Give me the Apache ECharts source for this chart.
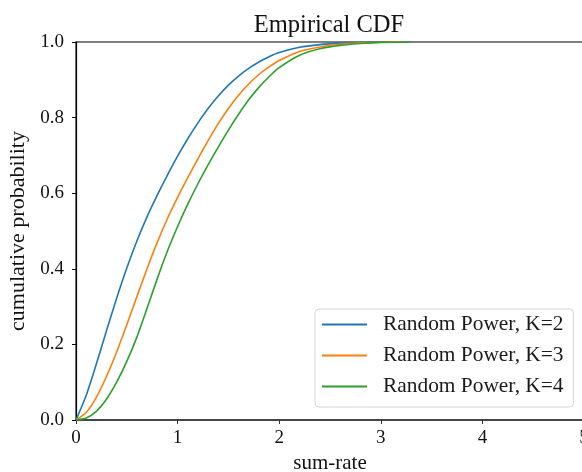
<!DOCTYPE html>
<html>
<head>
<meta charset="utf-8">
<script src="https://cdn.jsdelivr.net/npm/echarts@6/dist/echarts.min.js"></script>
<style>html,body{margin:0;padding:0;background:#fff}#c{width:582px;height:472px}</style>
</head>
<body>
<div id="c"></div>
<script>
const seriesNames = ['Random Power, K=2', 'Random Power, K=3', 'Random Power, K=4'];
const xK2 = [0, 0.1, 0.2, 0.3, 0.4, 0.5, 0.6, 0.7, 0.8, 0.9, 1.0, 1.1, 1.2, 1.3, 1.4, 1.5, 1.6, 1.7, 1.8, 1.9, 2.0, 2.2, 2.4, 2.6, 2.8, 3.0, 3.1];
const yK2 = [0, 0.065, 0.148, 0.236, 0.322, 0.402, 0.474, 0.538, 0.595, 0.648, 0.698, 0.744, 0.786, 0.824, 0.857, 0.886, 0.91, 0.93, 0.947, 0.961, 0.972, 0.986, 0.993, 0.997, 0.999, 1.0, 1.0];
const xK3 = [0, 0.1, 0.2, 0.3, 0.4, 0.5, 0.6, 0.7, 0.8, 0.9, 1.0, 1.1, 1.2, 1.3, 1.4, 1.5, 1.6, 1.7, 1.8, 1.9, 2.0, 2.2, 2.4, 2.6, 2.8, 3.0, 3.2];
const yK3 = [0, 0.02, 0.06, 0.115, 0.18, 0.252, 0.327, 0.401, 0.47, 0.533, 0.589, 0.641, 0.691, 0.739, 0.784, 0.824, 0.859, 0.889, 0.914, 0.934, 0.951, 0.975, 0.987, 0.994, 0.998, 0.9995, 1.0];
const xK4 = [0, 0.1, 0.2, 0.3, 0.4, 0.5, 0.6, 0.7, 0.8, 0.9, 1.0, 1.1, 1.2, 1.3, 1.4, 1.5, 1.6, 1.7, 1.8, 1.9, 2.0, 2.2, 2.4, 2.6, 2.8, 3.0, 3.3];
const yK4 = [0, 0.005, 0.023, 0.055, 0.1, 0.155, 0.22, 0.296, 0.374, 0.447, 0.512, 0.571, 0.625, 0.675, 0.722, 0.767, 0.809, 0.847, 0.88, 0.908, 0.932, 0.965, 0.982, 0.991, 0.996, 0.999, 1.0];
const xTicks = [0, 1, 2, 3, 4, 5];
const yTicks = [0.0, 0.2, 0.4, 0.6, 0.8, 1.0];
const colors = ['#1f77b4', '#ff7f0e', '#2ca02c'];

const pairs = (xs, ys) => xs.map((x, i) => [x, ys[i]]);
const allData = [pairs(xK2, yK2), pairs(xK3, yK3), pairs(xK4, yK4)];
const FONT = '"Liberation Serif", "DejaVu Serif", serif';

const chart = echarts.init(document.getElementById('c'), null, {renderer: 'canvas'});
chart.setOption({
  animation: false,
  backgroundColor: '#fff',
  textStyle: {fontFamily: FONT, color: '#000'},
  title: {
    text: 'Empirical CDF',
    left: 324, top: 8, textAlign: 'center',
    textStyle: {fontFamily: FONT, fontSize: 24.5, fontWeight: 'normal', color: '#111'}
  },
  grid: {left: 76, width: 508, top: 42, height: 378, containLabel: false, outerBoundsMode: 'none',
         show: true, borderColor: '#555', borderWidth: 1.5, backgroundColor: 'transparent'},
  legend: {
    orient: 'vertical', left: 315, top: 309,
    data: seriesNames,
    icon: 'rect', itemWidth: 45, itemHeight: 2, itemGap: 10,
    padding: [5, 10, 10, 7],
    backgroundColor: '#fff', borderColor: '#d6d6d6', borderWidth: 1, borderRadius: 4,
    textStyle: {fontFamily: FONT, fontSize: 21.4, color: '#1a1a1a', lineHeight: 21, padding: [0, 0, 0, 11]}
  },
  xAxis: {
    type: 'value', min: 0, max: 5, interval: 1,
    name: 'sum-rate', nameLocation: 'middle', nameGap: 30,
    nameTextStyle: {fontFamily: FONT, fontSize: 21, color: '#111'},
    axisLine: {show: true, onZero: false, lineStyle: {color: '#333', width: 1.5}},
    axisTick: {show: true, inside: false, length: 4, lineStyle: {color: '#333'}},
    axisLabel: {fontFamily: FONT, fontSize: 19, color: '#111', margin: 9,
      formatter: v => xTicks.includes(v) ? String(v) : ''},
    splitLine: {show: false}
  },
  yAxis: {
    type: 'value', min: 0, max: 1, interval: 0.2,
    name: 'cumulative probability', nameLocation: 'middle', nameGap: 35, nameRotate: 90,
    nameTextStyle: {fontFamily: FONT, fontSize: 22, color: '#111'},
    axisLine: {show: true, lineStyle: {color: '#000', width: 1.2}},
    axisTick: {show: true, inside: false, length: 4, lineStyle: {color: '#000'}},
    axisLabel: {fontFamily: FONT, fontSize: 19, color: '#111', margin: 12,
      formatter: v => { const t = yTicks.find(t => Math.abs(t - v) < 1e-9); return t === undefined ? '' : t.toFixed(1); }},
    splitLine: {show: false}
  },
  series: seriesNames.map((n, i) => ({
    name: n, type: 'line', data: allData[i], showSymbol: false, symbol: 'none',
    smooth: 0.2, color: colors[i],
    lineStyle: {color: colors[i], width: 1.6}, clip: true
  }))
});
</script>
</body>
</html>
